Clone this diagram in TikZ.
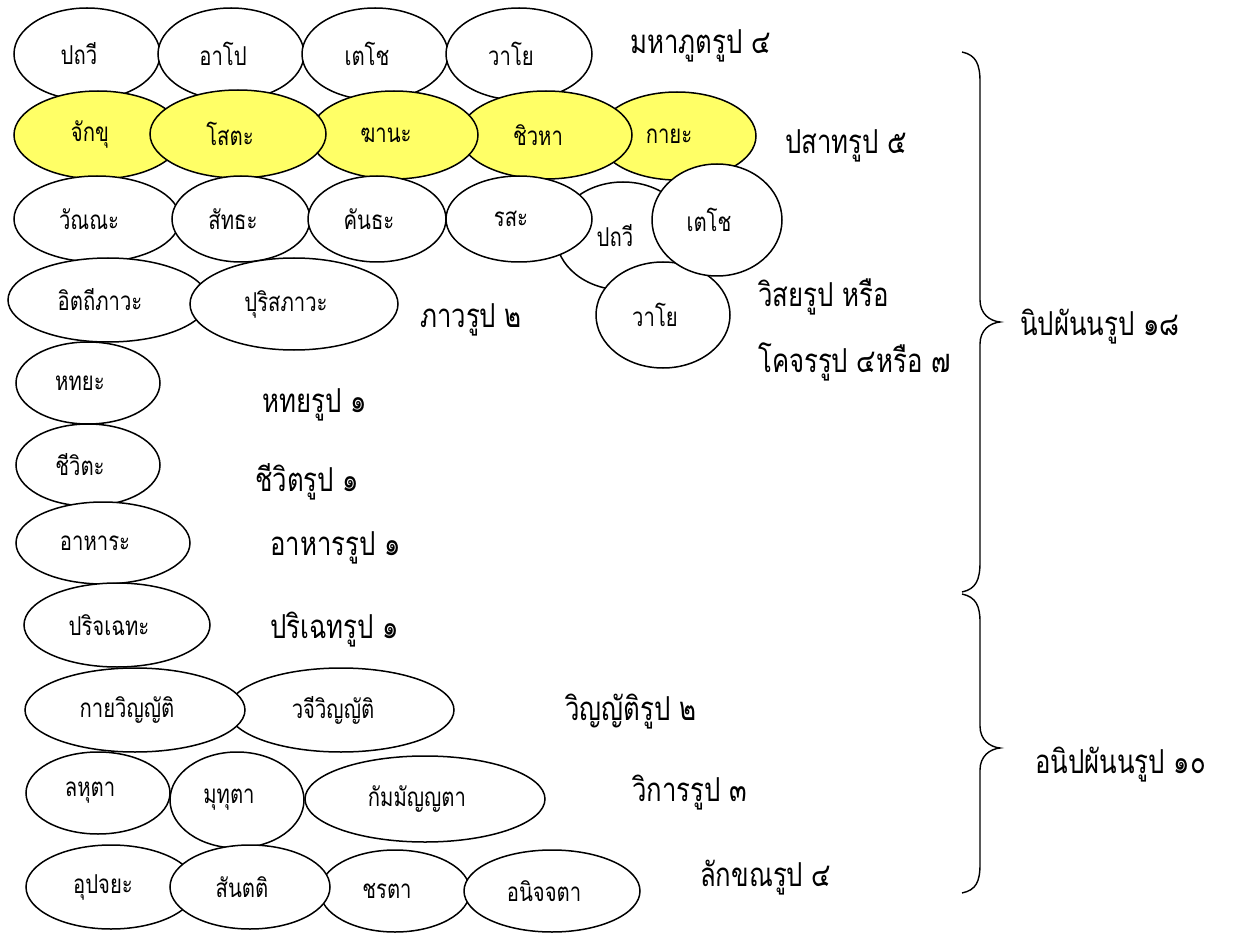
\documentclass[tikz,border=0pt]{standalone}
\usepackage{fontspec}
\newfontfamily\thaifont[Script=Thai, FakeStretch=0.78]{Loma}
\usetikzlibrary{shapes.geometric}
\definecolor{cSense}{HTML}{FFFF66}

\begin{document}
\begin{tikzpicture}[x=1pt, y=-1pt, font=\thaifont\fontsize{26}{30}\selectfont,
  oval/.style 2 args={ellipse, draw, line width=1.5pt, fill=white, inner sep=0pt,
                      minimum width=#1, minimum height=#2,
                      execute at end node={\hspace*{16pt}}},
  sense/.style={fill=cSense},
  group/.style={anchor=west, inner sep=0pt, font=\thaifont\fontsize{33}{36}\selectfont},
  brace/.style={line width=1.4pt}]

  \useasboundingbox (0,0) rectangle (1242,933);

  % mahabhuta rupa
  \node[oval={146pt}{92pt}] (pathavi) at (87,54) {ปถวี};
  \node[oval={146pt}{92pt}] (apo) at (231,54) {อาโป};
  \node[oval={146pt}{92pt}] (tejo) at (375,54) {เตโช};
  \node[oval={146pt}{92pt}] (vayo) at (519,54) {วาโย};
  \node[group] (mahabhuta) at (630,46) {มหาภูตรูป ๔};

  % pasada rupa (yellow)
  \node[oval={158pt}{88pt}, sense] (kaya) at (677,136) {กายะ};
  \node[oval={172pt}{88pt}, sense] (jivha) at (546,135) {ชิวหา};
  \node[oval={168pt}{88pt}, sense] (ghana) at (394,135) {ฆานะ};
  \node[oval={168pt}{88pt}, sense] (cakkhu) at (98,135) {จักขุ};
  \node[oval={176pt}{88pt}, sense] (sota) at (238,134) {โสตะ};
  \node[group] (pasada) at (785,146) {ปสาทรูป ๕};

  % gocara rupa
  \node[oval={134pt}{108pt}] (gpathavi) at (623,236) {ปถวี};
  \node[oval={166pt}{86pt}] (vanna) at (97,219) {วัณณะ};
  \node[oval={138pt}{86pt}] (sadda) at (241,219) {สัทธะ};
  \node[oval={138pt}{86pt}] (gandha) at (377,219) {คันธะ};
  \node[oval={146pt}{86pt}] (rasa) at (519,219) {รสะ};
  \node[oval={134pt}{106pt}] (gvayo) at (663,315) {วาโย};
  \node[oval={130pt}{112pt}] (gtejo) at (717,220) {เตโช};
  \node[group] (visaya) at (758,297) {วิสยรูป หรือ};
  \node[group] (gocara) at (758,362) {โคจรรูป ๔หรือ ๗};

  % bhava rupa
  \node[oval={200pt}{84pt}] (itthi) at (108,300) {อิตถีภาวะ};
  \node[oval={208pt}{92pt}] (purisa) at (294,304) {ปุริสภาวะ};
  \node[group] (bhava) at (420,320) {ภาวรูป ๒};

  % hadaya, jivita, ahara
  \node[oval={144pt}{82pt}] (hadaya) at (88,383) {หทยะ};
  \node[group] (hadayarupa) at (262,405) {หทยรูป ๑};
  \node[oval={144pt}{82pt}] (jivita) at (88,465) {ชีวิตะ};
  \node[group] (jivitarupa) at (255,482) {ชีวิตรูป ๑};
  \node[oval={174pt}{82pt}] (ahara) at (103,543) {อาหาระ};
  \node[group] (aharrupa) at (270,548) {อาหารรูป ๑};

  % anipphanna rupa
  \node[oval={186pt}{84pt}] (pariccheda) at (117,625) {ปริจเฉทะ};
  \node[group] (paricchedarupa) at (270,630) {ปริเฉทรูป ๑};

  \node[oval={226pt}{84pt}] (vaci) at (341,710) {วจีวิญญัติ};
  \node[oval={220pt}{84pt}] (kayavinnatti) at (135,710) {กายวิญญัติ};
  \node[group] (vinnatti) at (565,712) {วิญญัติรูป ๒};

  \node[oval={144pt}{82pt}] (lahuta) at (98,793) {ลหุตา};
  \node[oval={240pt}{86pt}] (kammannata) at (425,799) {กัมมัญญตา};
  \node[oval={134pt}{96pt}] (muduta) at (237,800) {มุทุตา};
  \node[group] (vikara) at (632,793) {วิการรูป ๓};

  \node[oval={170pt}{84pt}] (upacaya) at (111,887) {อุปจยะ};
  \node[oval={150pt}{82pt}] (jarata) at (395,891) {ชรตา};
  \node[oval={160pt}{84pt}] (santati) at (250,887) {สันตติ};
  \node[oval={176pt}{82pt}] (aniccata) at (552,891) {อนิจจตา};
  \node[group] (lakkhana) at (700,878) {ลักขณรูป ๔};

  % braces
  \coordinate (b1top) at (962,52);
  \coordinate (b1tip) at (1000,322);
  \coordinate (b1bot) at (962,592);
  \coordinate (b2top) at (962,594);
  \coordinate (b2tip) at (1000,748);
  \coordinate (b2bot) at (962,893);
  \draw[brace] (b1top) .. controls (976,55) and (980,64) .. (980,82) -- (980,300)
     .. controls (980,314) and (990,321) .. (b1tip)
     .. controls (990,323) and (980,330) .. (980,344) -- (980,562)
     .. controls (980,580) and (976,589) .. (b1bot);
  \draw[brace] (b2top) .. controls (976,597) and (980,606) .. (980,622) -- (980,726)
     .. controls (980,740) and (990,747) .. (b2tip)
     .. controls (990,749) and (980,756) .. (980,770) -- (980,864)
     .. controls (980,882) and (976,890) .. (b2bot);
  \node[group] (nipphanna) at (1020,327) {นิปผันนรูป ๑๘};
  \node[group] (anipphanna) at (1035,765) {อนิปผันนรูป ๑๐};
\end{tikzpicture}
\end{document}
